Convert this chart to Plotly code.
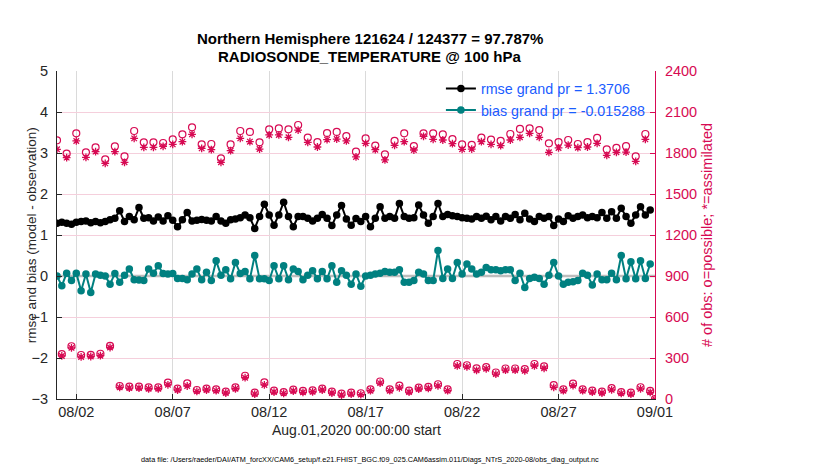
import numpy as np
import pandas as pd
import plotly.graph_objects as go

# 6-hourly bins, Aug 1 00Z .. Sep 1 00Z
times = pd.date_range("2020-08-01 00:00", periods=125, freq="6h")

rmse = [
    1.285, 1.31, 1.285, 1.26, 1.31, 1.33, 1.34, 1.30, 1.33, 1.30,
    1.33, 1.37, 1.41, 1.59, 1.33, 1.45, 1.37, 1.67, 1.41, 1.42,
    1.34, 1.44, 1.34, 1.47, 1.36, 1.20, 1.37, 1.55, 1.34, 1.36,
    1.38, 1.36, 1.34, 1.45, 1.34, 1.285, 1.37, 1.39, 1.42, 1.49,
    1.42, 1.16, 1.45, 1.75, 1.49, 1.24, 1.49, 1.80, 1.45, 1.20,
    1.45, 1.45, 1.41, 1.34, 1.41, 1.50, 1.41, 1.23, 1.49, 1.72,
    1.39, 1.24, 1.40, 1.33, 1.45, 1.20, 1.41, 1.69, 1.41, 1.45,
    1.41, 1.77, 1.45, 1.41, 1.42, 1.73, 1.49, 1.285, 1.45, 1.77,
    1.45, 1.50, 1.47, 1.45, 1.42, 1.41, 1.39, 1.45, 1.41, 1.46,
    1.37, 1.45, 1.34, 1.45, 1.41, 1.50, 1.37, 1.53, 1.39, 1.33,
    1.45, 1.41, 1.45, 1.23, 1.39, 1.33, 1.47, 1.41, 1.45, 1.49,
    1.42, 1.45, 1.42, 1.55, 1.41, 1.57, 1.41, 1.65, 1.45, 1.285,
    1.49, 1.69, 1.49, 1.61, None,
]

bias = [
    0.0, -0.24, 0.07, -0.11, 0.07, -0.36, 0.05, -0.40, 0.05, 0.02,
    0.0, -0.2, 0.06, -0.15, 0.02, 0.17, -0.09, -0.1, -0.11, 0.17,
    0.07, 0.25, 0.06, 0.05, 0.06, -0.06, -0.06, -0.09, 0.05, 0.17,
    -0.09, 0.09, -0.11, 0.37, 0.02, 0.15, -0.07, 0.33, 0.06, 0.11,
    -0.07, 0.5, -0.07, -0.07, -0.11, 0.25, -0.07, 0.25, -0.09, 0.17,
    0.11, -0.09, 0.02, 0.13, -0.07, 0.11, -0.07, 0.25, -0.15, 0.13,
    0.02, -0.2, 0.05, -0.25, 0.0, 0.02, 0.05, 0.07, 0.11, 0.09,
    0.09, 0.15, -0.15, -0.15, -0.11, 0.09, 0.05, -0.11, -0.11, 0.62,
    -0.06, 0.17, -0.06, 0.33, 0.05, 0.29, 0.17, 0.05, 0.09, 0.21,
    0.15, 0.15, 0.13, 0.15, 0.15, -0.11, 0.07, -0.28, -0.06, -0.03,
    -0.06, -0.2, 0.02, 0.33, 0.0, -0.2, -0.15, -0.14, -0.11, 0.07,
    0.02, -0.22, 0.05, -0.09, -0.09, 0.07, -0.09, 0.5, -0.07, 0.35,
    -0.07, 0.37, -0.06, 0.29, None,
]

# obs counts at 00Z / 12Z
synop_possible = [
    1893, 1795, 1944, 1805, 1841, 1754, 1849, 1776, 1961, 1878,
    1878, 1873, 1900, 1937, 1988, 1863, 1866, 1761, 1863, 1961,
    1954, 1878, 1973, 1980, 1973, 2005, 1912, 1880, 1946, 1954,
    1924, 1810, 1907, 1854, 1790, 1888, 1944, 1851, 1944, 1944,
    1937, 1902, 1863, 1859, 1912, 1898, 1888, 1939, 1976, 1980,
    1968, 1871, 1880, 1895, 1866, 1880, 1910, 1827, 1837, 1851,
    1776, 1939,
]
synop_assim = [
    1827, 1766, 1888, 1768, 1810, 1724, 1810, 1732, 1907, 1841,
    1841, 1849, 1863, 1883, 1937, 1834, 1824, 1732, 1817, 1907,
    1883, 1829, 1932, 1932, 1915, 1968, 1878, 1844, 1898, 1902,
    1888, 1771, 1871, 1824, 1749, 1856, 1883, 1822, 1922, 1900,
    1895, 1868, 1827, 1829, 1883, 1863, 1854, 1895, 1915, 1944,
    1915, 1805, 1837, 1858, 1839, 1844, 1871, 1783, 1805, 1807,
    1739, 1900,
]
# obs counts at 06Z / 18Z
off_possible = [
    329, 386, 322, 323, 331, 388, 95, 90, 90, 85,
    85, 120, 76, 115, 66, 76, 71, 54, 85, 170,
    46, 121, 61, 51, 68, 59, 63, 76, 54, 39,
    46, 42, 71, 128, 71, 98, 61, 83, 88, 108,
    71, 256, 247, 224, 233, 194, 223, 223, 218, 256,
    239, 101, 71, 112, 71, 61, 54, 79, 51, 46,
    86, 59,
]
off_assim = [
    315, 374, 308, 311, 317, 377, 85, 80, 80, 75,
    75, 104, 66, 95, 56, 66, 61, 44, 75, 156,
    36, 103, 51, 41, 58, 49, 53, 66, 44, 29,
    36, 32, 61, 116, 61, 82, 51, 73, 78, 96,
    61, 242, 235, 210, 221, 182, 211, 211, 206, 242,
    225, 85, 61, 98, 61, 51, 44, 67, 41, 36,
    74, 49,
]
last_possible = 0
last_assim = 0

tick_dates = ["2020-08-02", "2020-08-07", "2020-08-12", "2020-08-17",
              "2020-08-22", "2020-08-27", "2020-09-01"]
tick_text = ["08/02", "08/07", "08/12", "08/17", "08/22", "08/27", "09/01"]

# interleave the two obs cycles onto the 6-hourly bins
n_possible = np.empty(125)
n_assim = np.empty(125)
n_possible[0:124:2] = synop_possible
n_possible[1:124:2] = off_possible
n_possible[124] = last_possible
n_assim[0:124:2] = synop_assim
n_assim[1:124:2] = off_assim
n_assim[124] = last_assim

crimson = "#D70A53"
teal = "#008080"
font = "Liberation Sans, Arial, Helvetica, sans-serif"

fig = go.Figure()

fig.add_trace(go.Scatter(
    x=times, y=n_possible, yaxis="y2", mode="markers", showlegend=False,
    marker=dict(symbol="circle-open", size=7, color=crimson, line=dict(width=1.2)),
))
fig.add_trace(go.Scatter(
    x=times, y=n_assim, yaxis="y2", mode="markers", showlegend=False,
    marker=dict(symbol="asterisk-open", size=6.5, color=crimson, line=dict(width=1.3, color=crimson)),
))
# zero reference line
fig.add_trace(go.Scatter(
    x=[times[0], times[-1]], y=[0, 0], mode="lines", showlegend=False,
    line=dict(color="#BDBDBD", width=2.5), hoverinfo="skip",
))
fig.add_trace(go.Scatter(
    x=times, y=rmse, mode="lines+markers", name="rmse grand pr = 1.3706",
    line=dict(color="black", width=2), marker=dict(size=7.5, color="black"),
))
fig.add_trace(go.Scatter(
    x=times, y=bias, mode="lines+markers", name="bias grand pr = -0.015288",
    line=dict(color=teal, width=2), marker=dict(size=7.5, color=teal),
))

# the page body adds an 8px offset, margins are shifted to compensate
fig.update_layout(
    width=830, height=470,
    margin=dict(l=49, r=183, t=63, b=79),
    paper_bgcolor="white", plot_bgcolor="white",
    font=dict(family=font, size=13, color="#262626"),
    xaxis=dict(
        type="date", range=["2020-08-01", "2020-09-01"],
        tickvals=tick_dates, ticktext=tick_text,
        ticks="inside", ticklen=5, tickcolor="#262626",
        showline=True, linecolor="#262626", linewidth=1,
        showgrid=True, gridcolor="#DADADA", gridwidth=1,
        zeroline=False, tickfont=dict(size=14.5),
    ),
    yaxis=dict(
        range=[-3, 5], dtick=1,
        ticks="inside", ticklen=5, tickcolor="#262626",
        showline=True, linecolor="#262626", linewidth=1,
        showgrid=False, zeroline=False,
        tickfont=dict(size=14.5), ticklabelstandoff=5,
    ),
    yaxis2=dict(
        range=[0, 2400], dtick=300, overlaying="y", side="right",
        ticks="inside", ticklen=5, tickcolor=crimson,
        showline=True, linecolor=crimson, linewidth=1,
        showgrid=True, gridcolor="#F5CFDC", gridwidth=1, zeroline=False,
        tickfont=dict(size=14.5, color=crimson), ticklabelstandoff=6,
    ),
    legend=dict(
        x=0.642, y=0.995, xanchor="left", yanchor="top",
        bgcolor="rgba(0,0,0,0)", borderwidth=0,
        font=dict(size=14.3, color="#1A5CFF"), tracegroupgap=0,
        itemwidth=30,
    ),
    annotations=[
        dict(text="<b>Northern Hemisphere 121624 / 124377 = 97.787%</b>",
             xref="paper", yref="paper", x=0.523, y=1.098, showarrow=False,
             font=dict(size=15, color="black"), xanchor="center", yanchor="middle"),
        dict(text="<b>RADIOSONDE_TEMPERATURE @ 100 hPa</b>",
             xref="paper", yref="paper", x=0.523, y=1.043, showarrow=False,
             font=dict(size=15, color="black"), xanchor="center", yanchor="middle"),
        dict(text="rmse and bias (model - observation)",
             xref="paper", yref="paper", x=-0.043, y=0.5, textangle=-90, showarrow=False,
             font=dict(size=13.5, color="#262626"), xanchor="center", yanchor="middle"),
        dict(text="# of obs: o=possible; *=assimilated",
             xref="paper", yref="paper", x=1.087, y=0.5, textangle=-90, showarrow=False,
             font=dict(size=14.5, color=crimson), xanchor="center", yanchor="middle"),
        dict(text="Aug.01,2020 00:00:00 start",
             xref="paper", yref="paper", x=0.5, y=-0.095, showarrow=False,
             font=dict(size=14, color="#262626"), xanchor="center", yanchor="middle"),
        dict(text="data file: /Users/raeder/DAI/ATM_forcXX/CAM6_setup/f.e21.FHIST_BGC.f09_025.CAM6assim.011/Diags_NTrS_2020-08/obs_diag_output.nc",
             xref="paper", yref="paper", x=0.523, y=-0.183, showarrow=False,
             font=dict(size=7.3, color="black"), xanchor="center", yanchor="middle"),
    ],
)

fig.write_html("out.html")
